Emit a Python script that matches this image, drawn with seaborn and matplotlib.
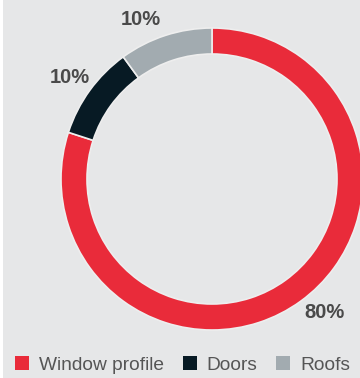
import numpy as np
import matplotlib
matplotlib.use("Agg")
import matplotlib.pyplot as plt
import seaborn as sns
from matplotlib.patches import Patch, Rectangle

# Data
categories = ["Window profile", "Doors", "Roofs"]
values = [80, 10, 10]
pct_labels = ["80%", "10%", "10%"]
colors = ["#e92b3a", "#071a24", "#a2abb0"]
label_angles = [-50, 144.5, 114]   # label placement angles (deg)

sns.set_theme(style="white")
plt.rcParams['font.family'] = ['Liberation Sans', 'DejaVu Sans']

BG = "#e6e7e8"
W, H = 360, 378
fig = plt.figure(figsize=(W / 100, H / 100), dpi=100, facecolor=BG)
ax = fig.add_axes([0, 0, 1, 1])
ax.set_facecolor(BG)

cx, cy, R = 212, 179, 151
ax.pie(values, colors=colors, startangle=90, counterclock=False, radius=1.0,
       wedgeprops=dict(width=26 / R, edgecolor="#eeeeee", linewidth=1.2))

for ang, txt in zip(label_angles, pct_labels):
    r = 1.155
    ax.text(r * np.cos(np.radians(ang)), r * np.sin(np.radians(ang)), txt,
            ha="center", va="center", fontsize=14.5, fontweight="bold",
            color="#4a4a4a")

ax.set_xlim(-cx / R, (W - cx) / R)
ax.set_ylim(-(H - cy) / R, cy / R)
ax.set_aspect("auto")
ax.axis("off")

handles = [Patch(facecolor=c, edgecolor="none") for c in colors]
leg = fig.legend(handles, categories, loc="center left",
                 bbox_to_anchor=(15 / W, 1 - 365 / H), ncol=3, frameon=False,
                 fontsize=13.8, handlelength=0.73, handleheight=0.73,
                 handletextpad=0.5, columnspacing=1.0, borderpad=0,
                 borderaxespad=0)
for t in leg.get_texts():
    t.set_color("#555555")

fig.patches.append(Rectangle((0, 0), 3 / W, 1, transform=fig.transFigure,
                             facecolor="white", edgecolor="none", zorder=10))

fig.savefig("out.png", dpi=100, facecolor=BG)
